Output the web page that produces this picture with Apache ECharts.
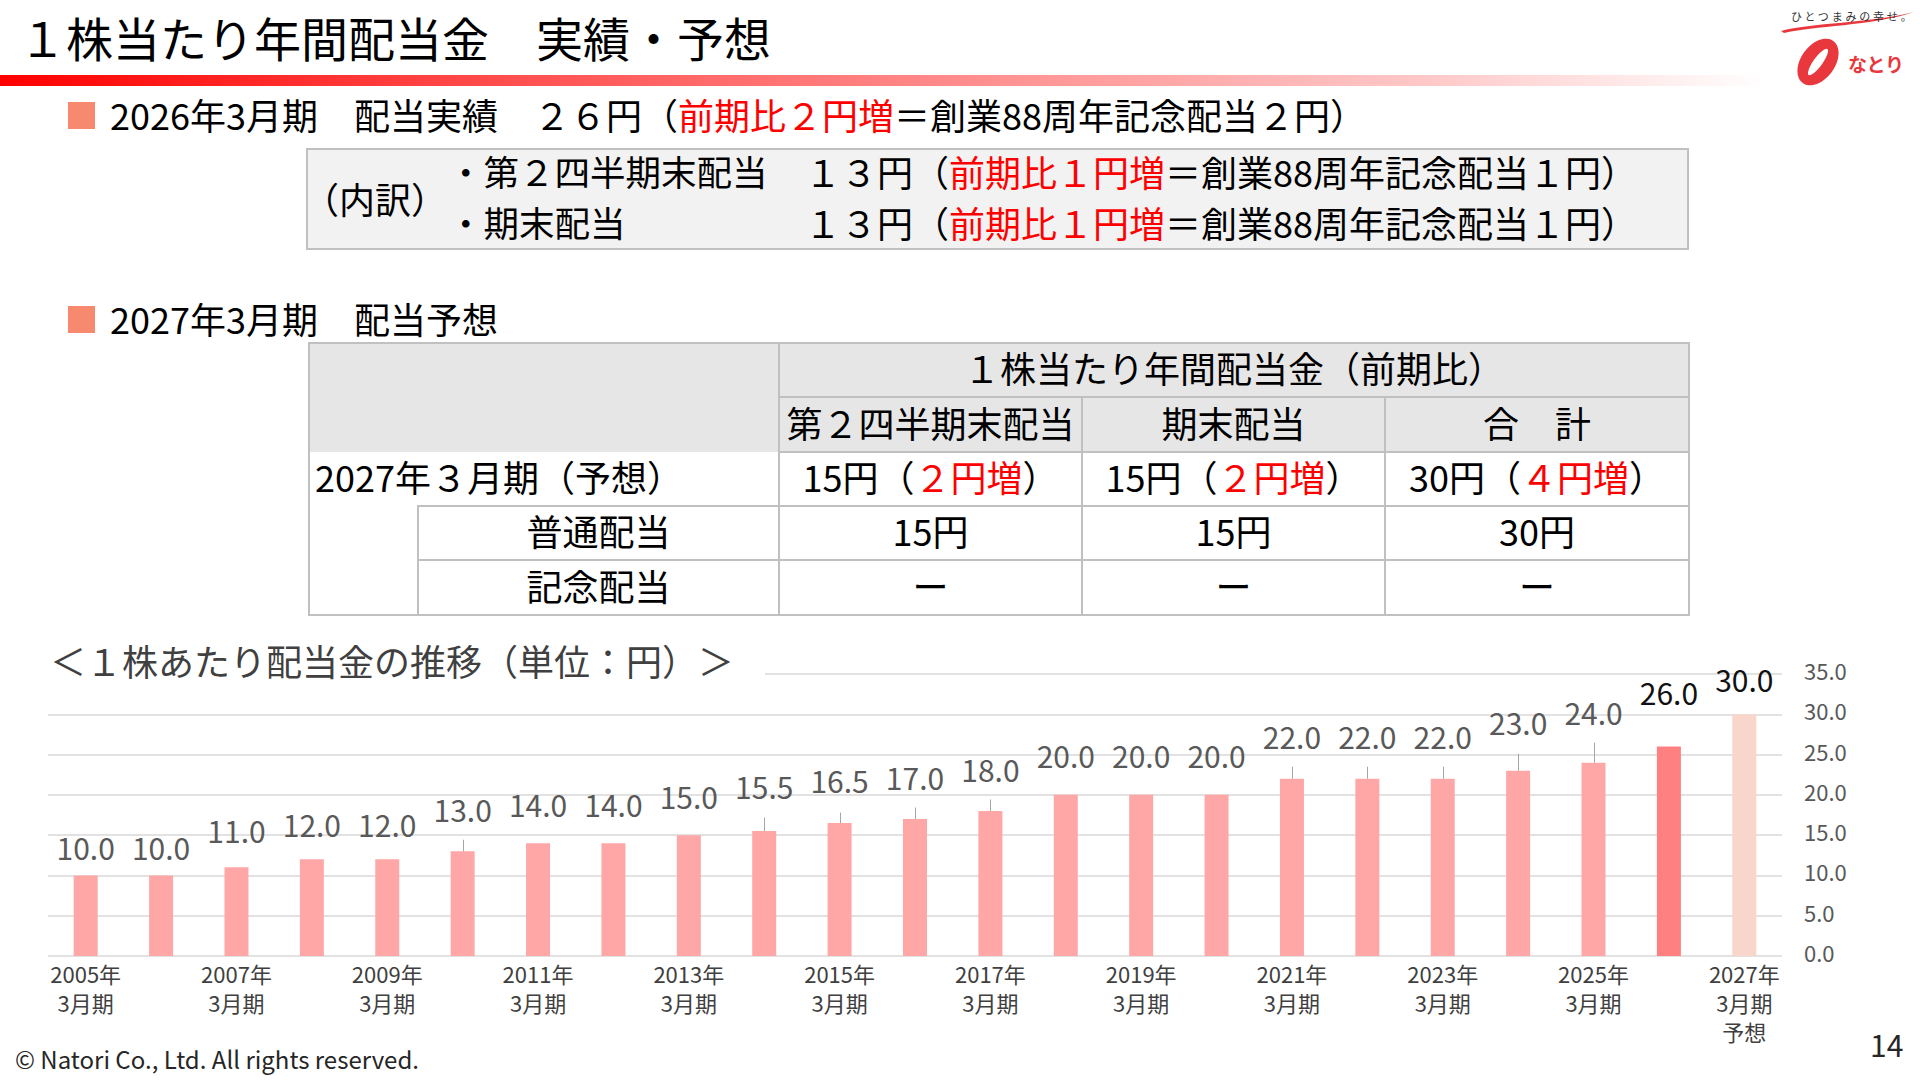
<!DOCTYPE html>
<html lang="ja"><head><meta charset="utf-8">
<script src="https://cdn.jsdelivr.net/npm/echarts@6/dist/echarts.min.js"></script>
<style>
html,body{margin:0;padding:0;background:#fff;}
#page{position:relative;width:1920px;height:1080px;overflow:hidden;font-family:"Noto Sans CJK JP","Noto Sans",sans-serif;color:#000;}
#chart{position:absolute;left:0;top:0;width:1920px;height:1080px;}
.abs{position:absolute;white-space:nowrap;line-height:1;}
.red{color:#FF0000;}
.sq{position:absolute;width:27px;height:27px;background:#F7896E;}
.cell{position:absolute;display:flex;align-items:center;justify-content:center;white-space:nowrap;font-size:36px;line-height:1;box-sizing:border-box;padding-bottom:6px;}
.gray{background:#E6E6E6;}
.hl{position:absolute;height:2px;background:#C0C0C0;}
.vl{position:absolute;width:2px;background:#C0C0C0;}
</style></head>
<body><div id="page">
<div id="chart"></div>

<div class="abs" style="left:19px;top:13px;font-size:47px;">１株当たり年間配当金　実績・予想</div>
<div style="position:absolute;left:0;top:75px;width:1920px;height:11px;background:linear-gradient(to right,#FF0000 0%,#FF5050 27%,#FF8C8C 50%,#FFCACA 75%,#FFFFFF 92%);"></div>

<svg style="position:absolute;left:1770px;top:0;" width="150" height="95" viewBox="1770 0 150 95">
  <path d="M1781,31 C1810,23 1870,23 1914,12 C1872,26 1812,26 1784,33 Z" fill="#E8383D"/>
  <g transform="rotate(36 1818 62)">
    <path fill-rule="evenodd" fill="#E8383D" d="M1818,36 a17,26 0 1,0 0.01,0 Z M1818,46 a4.5,16 0 1,0 0.01,0 Z"/>
  </g>
</svg>
<div class="abs" style="left:1791px;top:11px;font-size:11px;letter-spacing:2.8px;color:#333;">ひとつまみの幸せ。</div>
<div class="abs" style="left:1848px;top:54px;font-size:19px;font-weight:bold;color:#E8383D;letter-spacing:-0.5px;">なとり</div>

<div class="sq" style="left:68px;top:102px;"></div>
<div class="abs" style="left:110px;top:96px;font-size:36px;"><span>2026年3月期　配当実績　２６円（</span><span class="red">前期比２円増</span><span>＝創業88周年記念配当２円）</span></div>

<div style="position:absolute;left:306px;top:148px;width:1383px;height:102px;background:#F2F2F2;border:2px solid #C0C0C0;box-sizing:border-box;"></div>
<div class="abs" style="left:303px;top:180px;font-size:36px;">（内訳）</div>
<div class="abs" style="left:448px;top:153px;font-size:35.5px;">・第２四半期末配当</div>
<div class="abs" style="left:448px;top:204px;font-size:35.5px;">・期末配当</div>
<div class="abs" style="left:805px;top:153px;font-size:36px;"><span>１３円（</span><span class="red">前期比１円増</span><span>＝創業88周年記念配当１円）</span></div>
<div class="abs" style="left:805px;top:204px;font-size:36px;"><span>１３円（</span><span class="red">前期比１円増</span><span>＝創業88周年記念配当１円）</span></div>

<div class="sq" style="left:68px;top:306px;"></div>
<div class="abs" style="left:110px;top:300px;font-size:36px;">2027年3月期　配当予想</div>

<!-- table -->
<div class="cell gray" style="left:309px;top:343px;width:470px;height:109px;"></div>
<div class="cell gray" style="left:779px;top:343px;width:910px;height:54px;">１株当たり年間配当金（前期比）</div>
<div class="cell gray" style="left:779px;top:397px;width:303px;height:55px;">第２四半期末配当</div>
<div class="cell gray" style="left:1082px;top:397px;width:303px;height:55px;">期末配当</div>
<div class="cell gray" style="left:1385px;top:397px;width:304px;height:55px;">合　計</div>
<div class="cell" style="left:309px;top:452px;width:470px;height:54px;justify-content:flex-start;padding-left:6px;">2027年３月期（予想）</div>
<div class="cell" style="left:779px;top:452px;width:303px;height:54px;"><span>15円（</span><span class="red">２円増</span><span>）</span></div>
<div class="cell" style="left:1082px;top:452px;width:303px;height:54px;"><span>15円（</span><span class="red">２円増</span><span>）</span></div>
<div class="cell" style="left:1385px;top:452px;width:304px;height:54px;"><span>30円（</span><span class="red">４円増</span><span>）</span></div>
<div class="cell" style="left:418px;top:506px;width:361px;height:54px;">普通配当</div>
<div class="cell" style="left:779px;top:506px;width:303px;height:54px;">15円</div>
<div class="cell" style="left:1082px;top:506px;width:303px;height:54px;">15円</div>
<div class="cell" style="left:1385px;top:506px;width:304px;height:54px;">30円</div>
<div class="cell" style="left:418px;top:560px;width:361px;height:55px;">記念配当</div>
<div class="cell" style="left:779px;top:560px;width:303px;height:55px;">ー</div>
<div class="cell" style="left:1082px;top:560px;width:303px;height:55px;">ー</div>
<div class="cell" style="left:1385px;top:560px;width:304px;height:55px;">ー</div>
<!-- borders -->
<div class="hl" style="left:308px;top:342px;width:1382px;"></div>
<div class="hl" style="left:308px;top:614px;width:1382px;"></div>
<div class="vl" style="left:308px;top:342px;height:274px;"></div>
<div class="vl" style="left:1688px;top:342px;height:274px;"></div>
<div class="vl" style="left:778px;top:342px;height:274px;"></div>
<div class="vl" style="left:1081px;top:396px;height:220px;"></div>
<div class="vl" style="left:1384px;top:396px;height:220px;"></div>
<div class="hl" style="left:778px;top:396px;width:912px;"></div>
<div class="hl" style="left:778px;top:451px;width:912px;"></div>
<div class="hl" style="left:417px;top:505px;width:1273px;"></div>
<div class="hl" style="left:417px;top:559px;width:1273px;"></div>
<div class="vl" style="left:417px;top:505px;height:111px;"></div>

<div class="abs" style="left:15px;top:1047px;font-size:24px;color:#262626;">© Natori Co., Ltd. All rights reserved.</div>
<div class="abs" style="left:1870px;top:1029px;font-size:30px;color:#262626;">14</div>
</div>

<script>
// ---- data ----
const categories = ['2005年\n3月期','2006年\n3月期','2007年\n3月期','2008年\n3月期','2009年\n3月期','2010年\n3月期',
  '2011年\n3月期','2012年\n3月期','2013年\n3月期','2014年\n3月期','2015年\n3月期','2016年\n3月期','2017年\n3月期',
  '2018年\n3月期','2019年\n3月期','2020年\n3月期','2021年\n3月期','2022年\n3月期','2023年\n3月期','2024年\n3月期',
  '2025年\n3月期','2026年\n3月期','2027年\n3月期\n予想'];
const dividends = [10.0,10.0,11.0,12.0,12.0,13.0,14.0,14.0,15.0,15.5,16.5,17.0,18.0,20.0,20.0,20.0,22.0,22.0,22.0,23.0,24.0,26.0,30.0];
const yTickMin = 0, yTickMax = 35, yTickStep = 5;
const chartTitle = '＜１株あたり配当金の推移（単位：円）＞';

// ---- styles (kept apart from the data) ----
const LABEL_RISE = [27,27,36.5,34.5,34.5,41.5,38,38,37.7,43.7,41.6,41,41.3,38.5,38.5,38.5,42,42,42,47.6,49.5,54,34];
const LEADER_LEN = [0,0,0,0,0,11.5,0,0,0,13.5,10.5,11.5,11.5,0,0,0,12,12,12,17,20,0,0];
const BAR_COLOR = '#FFA7A7', BAR_COLOR_ACTUAL = '#FF8080', BAR_COLOR_FORECAST = '#F8D6CC';
const LABEL_COLOR = '#595959', LABEL_COLOR_STRONG = '#111111';
const lastActual = categories.length - 2, forecastIdx = categories.length - 1;

const barData = dividends.map((v, i) => ({
  value: v,
  itemStyle: { color: i === lastActual ? BAR_COLOR_ACTUAL : (i === forecastIdx ? BAR_COLOR_FORECAST : BAR_COLOR) },
  label: { color: (i >= lastActual) ? LABEL_COLOR_STRONG : LABEL_COLOR, offset: [0, -(LABEL_RISE[i] - 14)] }
}));

const chart = echarts.init(document.getElementById('chart'), null, { renderer: 'svg' });
chart.setOption({
  animation: false,
  textStyle: { fontFamily: '"Noto Sans CJK JP","Noto Sans",sans-serif' },
  title: {
    text: chartTitle, left: 44, top: 638,
    padding: [2, 31, 4, 6], backgroundColor: '#FFFFFF',
    textStyle: { fontSize: 36, fontWeight: 'normal', color: '#404040', lineHeight: 40 }
  },
  grid: { left: 48, right: 138, top: 674, bottom: 124, containLabel: false },
  xAxis: {
    type: 'category', data: categories,
    axisLine: { show: false }, axisTick: { show: false },
    axisLabel: { interval: 1, fontSize: 22, lineHeight: 29, color: '#404040', margin: 2 }
  },
  yAxis: {
    type: 'value', position: 'right', min: yTickMin, max: yTickMax, interval: yTickStep,
    axisLine: { show: false }, axisTick: { show: false },
    splitLine: { lineStyle: { color: '#D9D9D9', width: 1.5 } },
    axisLabel: { formatter: v => v.toFixed(1), fontSize: 22, color: '#595959', align: 'left', margin: 22,
                 verticalAlign: 'bottom', lineHeight: 8 }
  },
  series: [
    {
      type: 'bar', data: barData, barWidth: 24, z: 2,
      label: { show: true, position: 'top', distance: 0, fontSize: 30, lineHeight: 30,
               formatter: p => p.value.toFixed(1) }
    },
    {
      type: 'custom', silent: true, z: 3,
      data: dividends.map((v, i) => [i, v]),
      renderItem: (params, api) => {
        const len = LEADER_LEN[params.dataIndex];
        if (!len) return null;
        const p = api.coord([api.value(0), api.value(1)]);
        const x = Math.round(p[0]) + 0.5;
        return { type: 'line', shape: { x1: x, y1: p[1], x2: x, y2: p[1] - len },
                 style: { stroke: '#A6A6A6', lineWidth: 1 } };
      }
    }
  ]
});
</script>
</body></html>
